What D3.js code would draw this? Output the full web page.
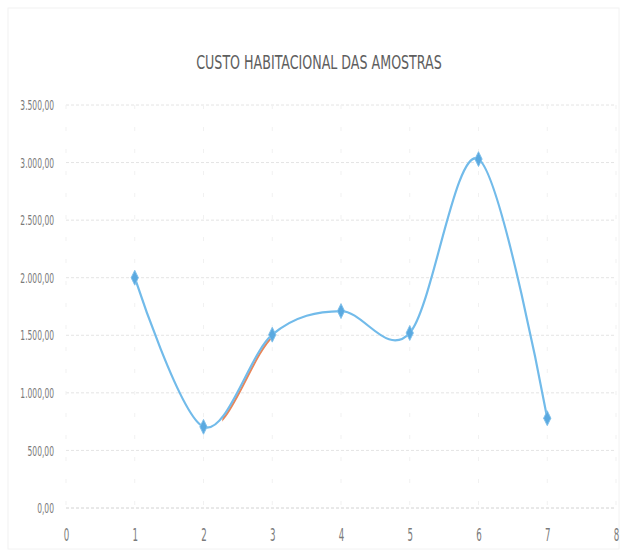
<!DOCTYPE html>
<html>
<head>
<meta charset="utf-8">
<script src="https://cdn.jsdelivr.net/npm/d3@7"></script>
<style>
  body { margin: 0; background: #fff; }
  text { font-family: "Liberation Sans Narrow", "DejaVu Sans Condensed", "DejaVu Sans", sans-serif; fill: #7a7a7a; }
</style>
</head>
<body>
<svg id="chart" width="627" height="557"></svg>
<script>
// amostras e custos
const amostras = [1, 2, 3, 4, 5, 6, 7];
const custos = [2000, 705, 1505, 1710, 1520, 3030, 780];
const xTicks = [0, 1, 2, 3, 4, 5, 6, 7, 8];
const yTicks = [0, 500, 1000, 1500, 2000, 2500, 3000, 3500];
const title = "CUSTO HABITACIONAL DAS AMOSTRAS";

const svg = d3.select("#chart");
const margin = { top: 105, right: 11, bottom: 49, left: 66 };
const width = 627 - margin.left - margin.right;
const height = 557 - margin.top - margin.bottom;

const pt = d3.formatLocale({ decimal: ",", thousands: ".", grouping: [3], currency: ["R$", ""] });
const fmt = pt.format(",.2f");

const x = d3.scaleLinear().domain([0, 8]).range([0, width]);
const y = d3.scaleLinear().domain([0, 3500]).range([height, 0]);

// aperta o texto para imitar a fonte condensada
const condense = (sel, k) =>
  sel.each(function () {
    const w = this.getComputedTextLength();
    d3.select(this).attr("textLength", w * k).attr("lengthAdjust", "spacingAndGlyphs");
  });

svg.append("rect")
  .attr("x", 8).attr("y", 8).attr("width", 611).attr("height", 541)
  .attr("fill", "none").attr("stroke", "#f2f2f2");

svg.append("text")
  .attr("x", 319).attr("y", 69)
  .attr("text-anchor", "middle")
  .attr("font-size", "19px")
  .style("fill", "#5e5e5e")
  .text(title)
  .call(condense, 0.74);

const g = svg.append("g").attr("transform", `translate(${margin.left},${margin.top})`);

//--grid
g.append("g")
  .selectAll("line")
  .data(yTicks)
  .enter()
  .append("line")
  .attr("x1", 0).attr("x2", width)
  .attr("y1", (d) => y(d)).attr("y2", (d) => y(d))
  .style("stroke", (d) => (d === 0 ? "#d2d2d2" : "#e4e4e4"))
  .style("stroke-width", 1)
  .style("stroke-dasharray", "3,2");

g.append("g")
  .selectAll("line")
  .data(xTicks)
  .enter()
  .append("line")
  .attr("x1", (d) => x(d)).attr("x2", (d) => x(d))
  .attr("y1", 0).attr("y2", height)
  .style("stroke", "#f1f1f1")
  .style("stroke-width", 1)
  .style("stroke-dasharray", "4,18");

//--axes
const yAxis = g.append("g")
  .call(d3.axisLeft(y).tickValues(yTicks).tickFormat(fmt).tickSize(0).tickPadding(12));
yAxis.select(".domain").remove();
yAxis.selectAll("text").attr("font-size", "14.5px").call(condense, 0.58);

const xAxis = g.append("g")
  .attr("transform", `translate(0,${height})`)
  .call(d3.axisBottom(x).tickValues(xTicks).tickFormat(d3.format("d")).tickSize(0).tickPadding(21));
xAxis.select(".domain").remove();
xAxis.selectAll("text").attr("font-size", "17.5px").call(condense, 0.55);

const pts = amostras.map((a, i) => [x(a), y(custos[i])]);
const line = d3.line().curve(d3.curveCardinal.tension(0));

//--serie laranja (parcialmente visível entre 2 e 3)
g.append("clipPath").attr("id", "clip-or")
  .append("rect")
  .attr("x", x(2.25)).attr("y", 0)
  .attr("width", x(3) - x(2.25)).attr("height", height);

g.append("path")
  .attr("d", line(pts))
  .attr("clip-path", "url(#clip-or)")
  .attr("transform", "translate(1.6,0.8)")
  .style("fill", "none")
  .style("stroke", "#e8865a")
  .style("stroke-width", 2);

//--serie principal
g.append("path")
  .attr("d", line(pts))
  .style("fill", "none")
  .style("stroke", "#72bbea")
  .style("stroke-width", 2.2);

g.append("g")
  .selectAll("path")
  .data(pts)
  .enter()
  .append("path")
  .attr("d", d3.symbol(d3.symbolDiamond, 64))
  .attr("transform", (d) => `translate(${d[0]},${d[1]}) scale(0.85,1)`)
  .style("fill", "#5aa9e0")
  .style("stroke", "#80c0ea")
  .style("stroke-width", 1);
</script>
</body>
</html>
